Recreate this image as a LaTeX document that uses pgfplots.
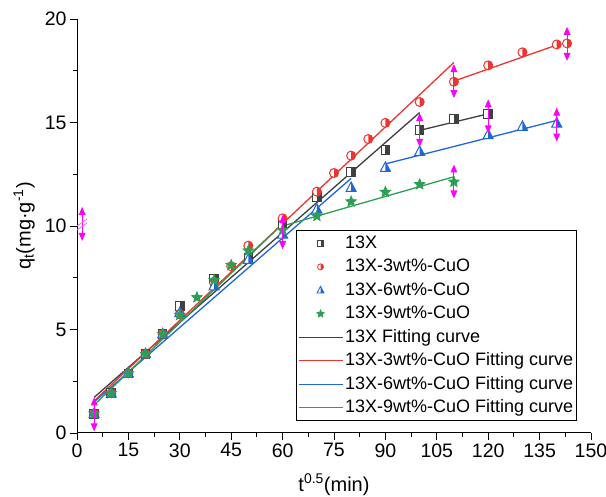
\documentclass[border=0pt]{standalone}
\usepackage{fontspec}
\setmainfont{Liberation Sans}
\usepackage{pgfplots}
\pgfplotsset{compat=1.18}
\definecolor{cK}{HTML}{404040}
\definecolor{cR}{HTML}{EE3430}
\definecolor{cB}{HTML}{1F66D6}
\definecolor{cG}{HTML}{2E9E55}
\definecolor{cM}{HTML}{FF00FF}
\definecolor{cMl}{HTML}{FF60FF}

\pgfdeclareplotmark{hsq}{%
 \begin{pgfscope}\pgfsetfillcolor{white}%
 \pgfpathrectangle{\pgfqpoint{-\pgfplotmarksize}{-\pgfplotmarksize}}{\pgfqpoint{2\pgfplotmarksize}{2\pgfplotmarksize}}\pgfusepathqfill\end{pgfscope}%
 \pgfpathrectangle{\pgfqpoint{0pt}{-\pgfplotmarksize}}{\pgfqpoint{\pgfplotmarksize}{2\pgfplotmarksize}}\pgfusepathqfill
 \pgfpathrectangle{\pgfqpoint{-\pgfplotmarksize}{-\pgfplotmarksize}}{\pgfqpoint{2\pgfplotmarksize}{2\pgfplotmarksize}}\pgfusepathqstroke}
\pgfdeclareplotmark{hcirc}{%
 \begin{pgfscope}\pgfsetfillcolor{white}%
 \pgfpathcircle{\pgfpointorigin}{\pgfplotmarksize}\pgfusepathqfill\end{pgfscope}%
 \pgfpathmoveto{\pgfqpoint{0pt}{\pgfplotmarksize}}\pgfpatharc{90}{-90}{\pgfplotmarksize}\pgfpathclose\pgfusepathqfill
 \pgfpathcircle{\pgfpointorigin}{\pgfplotmarksize}\pgfusepathqstroke}
\pgfdeclareplotmark{htri}{%
 \begin{pgfscope}\pgfsetfillcolor{white}%
 \pgfpathmoveto{\pgfqpoint{0pt}{1.15\pgfplotmarksize}}\pgfpathlineto{\pgfqpoint{-\pgfplotmarksize}{-0.75\pgfplotmarksize}}\pgfpathlineto{\pgfqpoint{\pgfplotmarksize}{-0.75\pgfplotmarksize}}\pgfpathclose\pgfusepathqfill\end{pgfscope}%
 \pgfpathmoveto{\pgfqpoint{0pt}{1.15\pgfplotmarksize}}\pgfpathlineto{\pgfqpoint{0pt}{-0.75\pgfplotmarksize}}\pgfpathlineto{\pgfqpoint{\pgfplotmarksize}{-0.75\pgfplotmarksize}}\pgfpathclose\pgfusepathqfill
 \pgfpathmoveto{\pgfqpoint{0pt}{1.15\pgfplotmarksize}}\pgfpathlineto{\pgfqpoint{-\pgfplotmarksize}{-0.75\pgfplotmarksize}}\pgfpathlineto{\pgfqpoint{\pgfplotmarksize}{-0.75\pgfplotmarksize}}\pgfpathclose\pgfusepathqstroke}
\pgfdeclareplotmark{fstar}{%
 \pgfpathmoveto{\pgfpointpolar{90}{\pgfplotmarksize}}%
 \pgfpathlineto{\pgfpointpolar{126}{0.45\pgfplotmarksize}}%
 \pgfpathlineto{\pgfpointpolar{162}{\pgfplotmarksize}}%
 \pgfpathlineto{\pgfpointpolar{198}{0.45\pgfplotmarksize}}%
 \pgfpathlineto{\pgfpointpolar{234}{\pgfplotmarksize}}%
 \pgfpathlineto{\pgfpointpolar{270}{0.45\pgfplotmarksize}}%
 \pgfpathlineto{\pgfpointpolar{306}{\pgfplotmarksize}}%
 \pgfpathlineto{\pgfpointpolar{342}{0.45\pgfplotmarksize}}%
 \pgfpathlineto{\pgfpointpolar{18}{\pgfplotmarksize}}%
 \pgfpathlineto{\pgfpointpolar{54}{0.45\pgfplotmarksize}}%
 \pgfpathclose\pgfusepathqfillstroke}
\pgfdeclareplotmark{darrow}{%
 \pgfpathmoveto{\pgfqpoint{0pt}{-11pt}}\pgfpathlineto{\pgfqpoint{0pt}{11pt}}\pgfusepathqstroke
 \pgfpathmoveto{\pgfqpoint{0pt}{17pt}}\pgfpathlineto{\pgfqpoint{-3.5pt}{9pt}}\pgfpathlineto{\pgfqpoint{3.5pt}{9pt}}\pgfpathclose
 \pgfpathmoveto{\pgfqpoint{0pt}{-17pt}}\pgfpathlineto{\pgfqpoint{-3.5pt}{-9pt}}\pgfpathlineto{\pgfqpoint{3.5pt}{-9pt}}\pgfpathclose
 \pgfusepathqfill}
\pgfdeclareplotmark{hatch}{%
 \pgfpathmoveto{\pgfqpoint{-5pt}{-6pt}}\pgfpathlineto{\pgfqpoint{5pt}{1pt}}
 \pgfpathmoveto{\pgfqpoint{-5pt}{-2pt}}\pgfpathlineto{\pgfqpoint{5pt}{5pt}}\pgfusepathqstroke}

\begin{document}
\begin{tikzpicture}
\begin{axis}[
  at={(77pt,64pt)}, anchor=south west,
  scale only axis, width=514pt, height=414pt,
  xmin=0, xmax=150, ymin=0, ymax=20,
  enlargelimits=false, clip=false,
  axis x line=bottom, axis y line=left,
  axis line style={-, line width=1pt, black},
  xtick={0,15,...,150}, ytick={0,5,...,20},
  minor x tick num=1, minor y tick num=1,
  tick align=outside,
  major tick length=7pt, minor tick length=4pt,
  tick style={black, line width=0.9pt},
  /pgf/number format/assume math mode=true,
  ticklabel style={font=\fontsize{19.5}{23}\selectfont},
  label style={font=\fontsize{20}{24}\selectfont},
  xlabel={t\textsuperscript{0.5}(min)},
  ylabel={q\textsubscript{t}(mg·g\textsuperscript{-1})},
  xlabel style={at={(axis description cs:0.5,-0.125)}, anchor=center},
  ylabel style={at={(axis description cs:-0.103,0.5)}, anchor=center},
  legend image code/.code={\draw[mark repeat=2,mark phase=2,#1] plot coordinates {(0pt,0pt)(22pt,0pt)(44pt,0pt)};},
  legend cell align=left,
  legend style={at={(0.427,0.029)}, anchor=south west, draw=black, line width=0.8pt,
    font=\fontsize{18}{21}\selectfont, inner xsep=1pt, inner ysep=1pt,
    nodes={inner ysep=3pt, inner xsep=2pt, text height=13.5pt, text depth=4pt},
    /tikz/every even column/.append style={column sep=0pt}},
]
% legend images for markers
\addlegendimage{only marks, mark=hsq, mark size=3pt, color=cK, line width=0.8pt}
\addlegendentry{13X}
\addlegendimage{only marks, mark=hcirc, mark size=3pt, color=cR, line width=0.8pt}
\addlegendentry{13X-3wt\%-CuO}
\addlegendimage{only marks, mark=htri, mark size=3.5pt, color=cB, line width=0.8pt}
\addlegendentry{13X-6wt\%-CuO}
\addlegendimage{only marks, mark=fstar, mark size=4pt, color=cG, line width=0.6pt}
\addlegendentry{13X-9wt\%-CuO}
% fitting curves, first segments
\addplot[cK, line width=1.3pt] coordinates {(5,1.72) (100,15.48)};
\addlegendentry{13X Fitting curve}
\addplot[cR, line width=1.3pt] coordinates {(5,1.55) (110,17.9)};
\addlegendentry{13X-3wt\%-CuO Fitting curve}
\addplot[cB, line width=1.3pt] coordinates {(5,1.50) (80,12.3)};
\addlegendentry{13X-6wt\%-CuO Fitting curve}
\addplot[cG, line width=1.3pt] coordinates {(5,1.35) (60,10.1)};
\addlegendentry{13X-9wt\%-CuO Fitting curve}
% second segments
\addplot[cK, line width=1.3pt, forget plot] coordinates {(100,14.62) (120,15.42)};
\addplot[cR, line width=1.3pt, forget plot] coordinates {(110,17.0) (141,18.8)};
\addplot[cB, line width=1.3pt, forget plot] coordinates {(90,13.0) (140,15.1)};
\addplot[cG, line width=1.3pt, forget plot] coordinates {(60,10.0) (110,12.38)};
% data
\addplot[only marks, mark=hsq, mark size=4.3pt, color=cK, line width=1pt, forget plot] coordinates {
(5,0.93)(10,1.92)(15,2.88)(20,3.82)(25,4.78)(30,6.13)(40,7.47)(50,8.45)(60,10.1)(70,11.4)(80,12.6)(90,13.66)(100,14.64)(110,15.18)(120,15.4)};
\addplot[only marks, mark=hcirc, mark size=4.5pt, color=cR, line width=1pt, forget plot] coordinates {
(5,0.93)(10,1.92)(15,2.88)(20,3.82)(25,4.78)(30,5.75)(40,7.25)(45,8.05)(50,9.05)(60,10.37)(70,11.66)(75,12.56)(80,13.4)(85,14.2)(90,14.98)(100,15.99)(110,16.97)(120,17.76)(130,18.39)(140,18.77)(143,18.82)};
\addplot[only marks, mark=htri, mark size=5pt, color=cB, line width=1pt, forget plot] coordinates {
(5,0.93)(10,1.92)(15,2.88)(20,3.82)(25,4.78)(30,5.8)(40,7.1)(50,8.38)(60,9.6)(70,10.8)(80,11.85)(90,12.82)(100,13.59)(120,14.4)(130,14.8)(140,14.96)};
\addplot[only marks, mark=fstar, mark size=5.5pt, color=cG, line width=0.8pt, forget plot] coordinates {
(5,0.93)(10,1.92)(15,2.88)(20,3.82)(25,4.78)(30,5.7)(35,6.55)(40,7.39)(45,8.11)(50,8.81)(60,9.8)(70,10.48)(80,11.18)(90,11.64)(100,12.01)(110,12.13)};
% magenta range markers
\addplot[only marks, mark=darrow, color=cM, line width=1pt, forget plot] coordinates {
(1.5,10.1)(5,0.9)(60,9.7)(100,14.64)(110,17.0)(110,12.15)(120,15.3)(140,14.9)(143,18.8)};
\addplot[only marks, mark=hatch, color=cMl, line width=0.8pt, forget plot] coordinates {(1.5,10.1)};
\end{axis}
\pgfresetboundingbox
\path[use as bounding box] (0,0) rectangle (606pt,497pt);
\end{tikzpicture}
\end{document}
